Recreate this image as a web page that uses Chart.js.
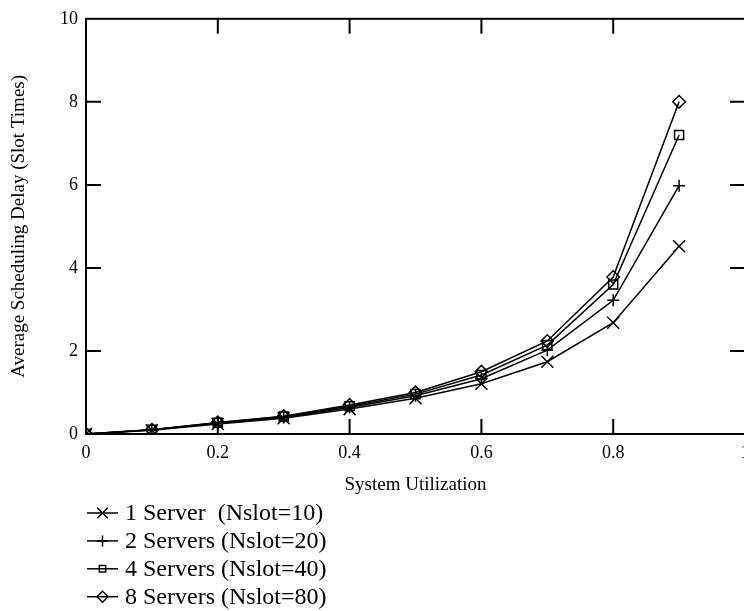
<!DOCTYPE html>
<html>
<head>
<meta charset="utf-8">
<script src="https://cdn.jsdelivr.net/npm/chart.js@4/dist/chart.umd.min.js"></script>
<style>
  html, body { margin: 0; padding: 0; background: #ffffff; overflow: hidden; width: 744px; height: 611px; }
  #c { display: block; }
</style>
</head>
<body>
<canvas id="c" width="800" height="611"></canvas>
<script>
// ---- data ----
const utilization = [0, 0.1, 0.2, 0.3, 0.4, 0.5, 0.6, 0.7, 0.8, 0.9];
const server1 = [0, 0.09, 0.24, 0.38, 0.60, 0.86, 1.21, 1.74, 2.68, 4.52];
const server2 = [0, 0.10, 0.26, 0.40, 0.64, 0.92, 1.33, 2.02, 3.22, 5.98];
const server4 = [0, 0.10, 0.27, 0.42, 0.67, 0.96, 1.42, 2.14, 3.60, 7.20];
const server8 = [0, 0.10, 0.28, 0.43, 0.70, 1.00, 1.50, 2.24, 3.78, 8.00];
const seriesLabels = ['1 Server  (Nslot=10)', '2 Servers (Nslot=20)', '4 Servers (Nslot=40)', '8 Servers (Nslot=80)'];
const xTickValues = [0, 0.2, 0.4, 0.6, 0.8, 1];
const yTickValues = [0, 2, 4, 6, 8, 10];
const xTitle = 'System Utilization';
const yTitle = 'Average Scheduling Delay (Slot Times)';

const SERIF = "'Liberation Serif', 'Times New Roman', 'DejaVu Serif', serif";
const styles = [
  { pointStyle: 'crossRot', radius: 8.5, legendRadius: 7.5 },
  { pointStyle: 'cross', radius: 6, legendRadius: 5.5 },
  { pointStyle: 'rect', radius: 6.4, legendRadius: 4.5 },
  { pointStyle: 'rectRot', radius: 6.3, legendRadius: 5.5 }
];
const seriesValues = [server1, server2, server4, server8];

const datasets = seriesValues.map((vals, i) => ({
  label: seriesLabels[i],
  data: utilization.map((x, k) => ({ x: x, y: vals[k] })),
  borderColor: '#000',
  backgroundColor: 'rgba(0,0,0,0)',
  borderWidth: 1.5,
  tension: 0,
  pointStyle: styles[i].pointStyle,
  pointRadius: styles[i].radius,
  pointBorderColor: '#000',
  pointBackgroundColor: 'rgba(0,0,0,0)',
  pointBorderWidth: 1.5
}));

const frameAndLegend = {
  id: 'frameAndLegend',
  afterDraw(chart) {
    const ctx = chart.ctx;
    const a = chart.chartArea;
    const xs = chart.scales.x, ys = chart.scales.y;
    ctx.save();
    ctx.strokeStyle = '#000';
    ctx.lineWidth = 2;
    ctx.strokeRect(a.left, a.top, a.right - a.left, a.bottom - a.top);
    const T = 15;
    ctx.beginPath();
    xTickValues.slice(1, -1).forEach(v => {
      const px = xs.getPixelForValue(v);
      ctx.moveTo(px, a.bottom); ctx.lineTo(px, a.bottom - T);
      ctx.moveTo(px, a.top); ctx.lineTo(px, a.top + T);
    });
    yTickValues.slice(1, -1).forEach(v => {
      const py = ys.getPixelForValue(v);
      ctx.moveTo(a.left, py); ctx.lineTo(a.left + T, py);
      ctx.moveTo(a.right, py); ctx.lineTo(a.right - T, py);
    });
    ctx.stroke();

    // legend
    const startY = 513, step = 27.9;
    chart.data.datasets.forEach((ds, i) => {
      const y = startY + i * step;
      ctx.strokeStyle = '#000';
      ctx.lineWidth = 1.5;
      ctx.beginPath();
      ctx.moveTo(87, y); ctx.lineTo(118, y);
      ctx.stroke();
      ctx.fillStyle = 'rgba(0,0,0,0)';
      Chart.helpers.drawPoint(ctx, {
        pointStyle: ds.pointStyle, rotation: 0,
        radius: styles[i].legendRadius, borderWidth: 1.5
      }, 102.5, y);
      ctx.fillStyle = '#000';
      ctx.font = '24px ' + SERIF;
      ctx.textBaseline = 'middle';
      ctx.textAlign = 'left';
      ctx.fillText(ds.label, 125, y + 1);
    });
    ctx.restore();
  }
};

new Chart(document.getElementById('c'), {
  type: 'line',
  data: { datasets: datasets },
  options: {
    responsive: false,
    devicePixelRatio: 1,
    animation: false,
    layout: { padding: { left: 0, top: 12, right: 55, bottom: 115 } },
    plugins: { legend: { display: false }, tooltip: { enabled: false } },
    scales: {
      x: {
        type: 'linear', min: 0, max: 1,
        afterBuildTicks(scale) { scale.ticks = xTickValues.map(v => ({ value: v })); },
        afterFit(scale) { scale.height = 62; },
        grid: { display: false, drawTicks: false },
        border: { display: false },
        ticks: {
          color: '#000', padding: 8, maxRotation: 0, autoSkip: false,
          font: { family: SERIF, size: 18 },
          callback: v => String(Math.round(v * 10) / 10)
        },
        title: { display: true, text: xTitle, color: '#000', font: { family: SERIF, size: 19 }, padding: { top: 0, bottom: 0 } }
      },
      y: {
        type: 'linear', min: 0, max: 10,
        afterBuildTicks(scale) { scale.ticks = yTickValues.map(v => ({ value: v })); },
        afterFit(scale) { scale.width = 86; },
        grid: { display: false, drawTicks: false },
        border: { display: false },
        ticks: {
          color: '#000', padding: 8, autoSkip: false,
          font: { family: SERIF, size: 18 },
          callback: v => String(v)
        },
        title: { display: true, text: yTitle, color: '#000', font: { family: SERIF, size: 19 }, padding: { top: 8, bottom: 0 } }
      }
    }
  },
  plugins: [frameAndLegend]
});
</script>
</body>
</html>
